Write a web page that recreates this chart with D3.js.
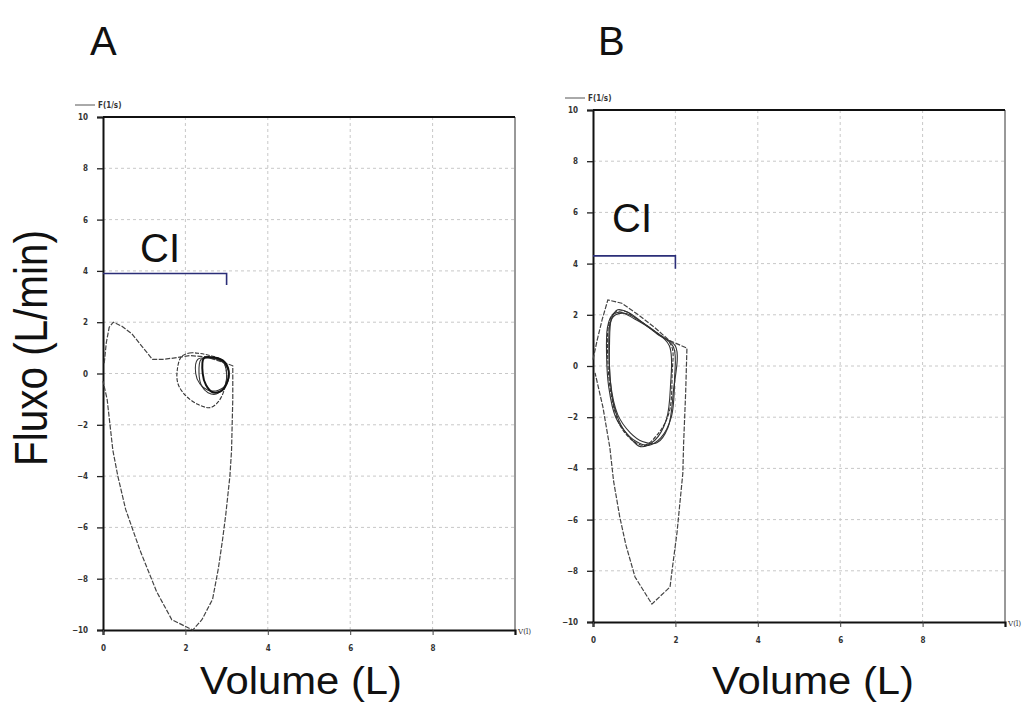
<!DOCTYPE html>
<html><head><meta charset="utf-8">
<script src="https://cdn.jsdelivr.net/npm/d3@7"></script>
<style>html,body{margin:0;padding:0;background:#fff;}svg{display:block;}</style>
</head><body>
<svg id="c" width="1025" height="704"></svg>
<script>
// ---- data ----
const xTicks = [0, 2, 4, 6, 8];
const yTicks = [10, 8, 6, 4, 2, 0, -2, -4, -6, -8, -10];
const gridX = [2, 4, 6, 8];
const gridY = [8, 6, 4, 2, 0, -2, -4, -6, -8];
const panelLabels = ["A", "B"];
const ciLabel = "CI";

// Panel A: forced flow-volume loop (Volume L, Flow)
const forcedA = [[0.03,0.4],[0.08,1.2],[0.15,1.8],[0.25,2.0],[0.45,1.85],[0.7,1.55],[0.95,1.05],[1.2,0.55],[1.45,0.55],[1.8,0.62],[2.1,0.7],[2.5,0.65],[2.9,0.45],[3.15,0.3],[3.15,-1.0],[3.12,-3.0],[3.08,-4.0],[2.98,-5.5],[2.9,-6.5],[2.8,-7.6],[2.66,-8.8],[2.4,-9.6],[2.18,-10.0],[1.67,-9.6],[1.3,-8.5],[0.9,-6.9],[0.55,-5.3],[0.36,-4.0],[0.24,-3.0],[0.1,-1.0],[0.0,-0.3]];
// Panel A: tidal loops
const tidalA1 = [[1.9,0.65],[2.1,0.8],[2.35,0.78],[2.6,0.7],[2.9,0.5],[3.0,0.0],[2.95,-0.6],[2.8,-1.1],[2.6,-1.33],[2.3,-1.2],[2.0,-0.85],[1.82,-0.4],[1.8,0.1]];
const tidalA2 = [[2.3,0.55],[2.6,0.6],[2.9,0.45],[3.05,0.1],[3.0,-0.4],[2.8,-0.65],[2.55,-0.65],[2.35,-0.4],[2.25,0.0]];
const tidalA3 = [[2.45,0.6],[2.7,0.62],[2.95,0.45],[3.05,0.1],[3.0,-0.4],[2.85,-0.7],[2.65,-0.72],[2.5,-0.45],[2.42,0.0]];
const tidalA4 = [[2.38,0.55],[2.62,0.62],[2.92,0.45],[3.0,0.0],[2.95,-0.5],[2.75,-0.8],[2.55,-0.75],[2.4,-0.5],[2.33,0.0]];

// Panel B: forced loop
const forcedB = [[0.0,0.25],[0.1,1.0],[0.22,1.8],[0.36,2.58],[0.7,2.45],[1.1,2.0],[1.5,1.5],[1.85,1.0],[2.28,0.7],[2.25,-1.0],[2.2,-3.0],[2.18,-4.2],[2.1,-5.5],[2.04,-6.5],[1.92,-7.97],[1.87,-8.63],[1.43,-9.3],[1.02,-8.24],[0.8,-7.0],[0.65,-5.9],[0.5,-4.5],[0.41,-3.2],[0.24,-1.6],[0.05,-0.27]];
// Panel B: tidal loops
const tidalB1 = [[0.38,1.6],[0.5,2.05],[0.75,2.15],[1.1,1.8],[1.5,1.35],[1.9,0.8],[1.92,-0.3],[1.85,-1.8],[1.6,-2.6],[1.25,-3.1],[0.95,-2.9],[0.65,-2.3],[0.45,-1.2],[0.36,0.2]];
const tidalB2 = [[0.42,1.7],[0.55,2.0],[0.8,2.05],[1.15,1.75],[1.55,1.3],[1.95,0.75],[1.98,-0.5],[1.9,-2.0],[1.65,-2.8],[1.35,-3.1],[1.05,-2.95],[0.75,-2.5],[0.5,-1.5],[0.4,0.0]];
const tidalB3 = [[0.35,1.5],[0.45,1.95],[0.65,2.1],[1.0,1.85],[1.45,1.4],[1.85,0.8],[1.88,-0.8],[1.78,-2.1],[1.5,-2.9],[1.15,-3.15],[0.85,-2.7],[0.55,-2.0],[0.38,-0.8],[0.33,0.4]];
const tidalB4 = [[0.45,1.85],[0.6,2.2],[0.85,2.1],[1.2,1.7],[1.6,1.2],[2.0,0.78],[1.95,-1.0],[1.82,-2.4],[1.55,-3.0],[1.2,-2.95],[0.9,-2.6],[0.6,-1.9],[0.42,-0.6],[0.4,0.8]];

// CI brackets (volume, flow)
const ciA = [[0,3.9],[3.0,3.9],[3.0,3.45]];
const ciB = [[0,4.3],[2.0,4.3],[2.0,3.8]];

// ---- drawing ----
const svg = d3.select("#c");

function panel(o) {
  const x = d3.scaleLinear().domain([0,10]).range([o.x0, o.x1]);
  const y = d3.scaleLinear().domain([-10,10]).range([o.y0, o.y1]);
  const g = svg.append("g");

  // grid
  g.selectAll(".gx").data(gridX).join("line")
    .attr("x1", d=>x(d)).attr("x2", d=>x(d)).attr("y1", y(10)).attr("y2", y(-10))
    .attr("stroke", "#c8c8c8").attr("stroke-width", 1).attr("stroke-dasharray", "3,3");
  g.selectAll(".gy").data(gridY).join("line")
    .attr("x1", x(0)).attr("x2", x(10)).attr("y1", d=>y(d)).attr("y2", d=>y(d))
    .attr("stroke", "#c8c8c8").attr("stroke-width", 1).attr("stroke-dasharray", "3,3");

  // frame: right thin, top thick
  g.append("line").attr("x1", x(10)).attr("x2", x(10)).attr("y1", y(10)).attr("y2", y(-10))
    .attr("stroke", "#333").attr("stroke-width", 1);
  g.append("line").attr("x1", x(0)).attr("x2", x(10)).attr("y1", y(10)).attr("y2", y(10))
    .attr("stroke", "#111").attr("stroke-width", 2.2);

  // y axis
  const ya = g.append("g").attr("transform", `translate(${x(0)},0)`)
    .call(d3.axisLeft(y).tickValues(yTicks).tickSize(6).tickPadding(9).tickFormat(d3.format("d")));
  ya.select(".domain").attr("stroke", "#111").attr("stroke-width", 2);
  ya.selectAll(".tick line").attr("stroke", "#222").attr("stroke-width", 1.3);
  ya.selectAll("text").attr("font-family", "DejaVu Sans Condensed, DejaVu Sans").attr("font-weight", "bold")
    .attr("font-size", 8).attr("fill", "#333");

  // x axis
  const xa = g.append("g").attr("transform", `translate(0,${y(-10)})`)
    .call(d3.axisBottom(x).tickValues(xTicks).tickSize(5).tickPadding(10).tickFormat(d3.format("d")));
  xa.select(".domain").attr("stroke", "#111").attr("stroke-width", 2.2);
  xa.selectAll(".tick line").attr("stroke", "#444").attr("stroke-width", 1);
  xa.selectAll("text").attr("font-family", "DejaVu Sans Condensed, DejaVu Sans").attr("font-weight", "bold")
    .attr("font-size", 8).attr("fill", "#333");

  // axis captions
  g.append("line").attr("x1", x(0)-28).attr("x2", x(0)-8).attr("y1", y(10)-12).attr("y2", y(10)-12)
    .attr("stroke", "#555").attr("stroke-width", 1);
  g.append("text").attr("x", x(0)-5).attr("y", y(10)-9).text("F(1/s)")
    .attr("font-family", "DejaVu Sans Condensed, DejaVu Sans").attr("font-weight", "bold")
    .attr("font-size", 8).attr("fill", "#333");
  g.append("text").attr("x", x(10)+3).attr("y", y(-10)+4).text("V(l)")
    .attr("font-family", "DejaVu Serif Condensed, DejaVu Serif").attr("font-size", 8).attr("fill", "#333");

  // loops
  const lin = d3.line().x(d=>x(d[0])).y(d=>y(d[1]));
  const closed = d3.line().x(d=>x(d[0])).y(d=>y(d[1])).curve(d3.curveCatmullRomClosed.alpha(0.5));
  g.append("path").attr("d", lin(o.forced)).attr("fill", "none")
    .attr("stroke", "#444").attr("stroke-width", 1.2).attr("stroke-dasharray", "5,1.5");
  o.tidal.forEach((t, i) => {
    g.append("path").attr("d", closed(t)).attr("fill", "none")
      .attr("stroke", i === o.bold ? "#111" : "#333")
      .attr("stroke-width", i === o.bold ? 2 : 1.1)
      .attr("stroke-dasharray", i === 0 ? "4,1.5" : null);
  });

  // CI bracket
  g.append("path").attr("d", d3.line().x(d=>x(d[0])).y(d=>y(d[1]))(o.ci))
    .attr("fill", "none").attr("stroke", "#2b2e78").attr("stroke-width", 1.6);
  g.append("text").attr("x", o.ciTextX).attr("y", o.ciTextY).text(ciLabel)
    .attr("font-family", "Liberation Sans, Arial").attr("font-size", 40).attr("fill", "#111");

  // panel letter
  g.append("text").attr("x", o.letterX).attr("y", 55).text(o.letter)
    .attr("font-family", "Liberation Sans, Arial").attr("font-size", 40).attr("fill", "#111");

  // x label
  g.append("text").attr("x", o.xLabelX).attr("y", 694).attr("text-anchor", "middle").text("Volume (L)")
    .attr("font-family", "Liberation Sans, Arial").attr("font-size", 38)
    .attr("textLength", 202).attr("lengthAdjust", "spacingAndGlyphs").attr("fill", "#111");
}

panel({x0:103, x1:515, y0:630, y1:117, forced:forcedA, tidal:[tidalA1,tidalA2,tidalA4,tidalA3], bold:3,
  ci:ciA, ciTextX:140, ciTextY:262, letter:panelLabels[0], letterX:90, xLabelX:301});
panel({x0:593, x1:1005, y0:622, y1:110, forced:forcedB, tidal:[tidalB1,tidalB2,tidalB3,tidalB4], bold:-1,
  ci:ciB, ciTextX:612, ciTextY:232, letter:panelLabels[1], letterX:598, xLabelX:813});

// y label
svg.append("text").attr("transform", "translate(47,348) rotate(-90)").attr("text-anchor", "middle")
  .text("Fluxo (L/min)").attr("font-family", "Liberation Sans, Arial").attr("font-size", 46)
  .attr("textLength", 236).attr("lengthAdjust", "spacingAndGlyphs").attr("fill", "#111");
</script>
</body></html>
